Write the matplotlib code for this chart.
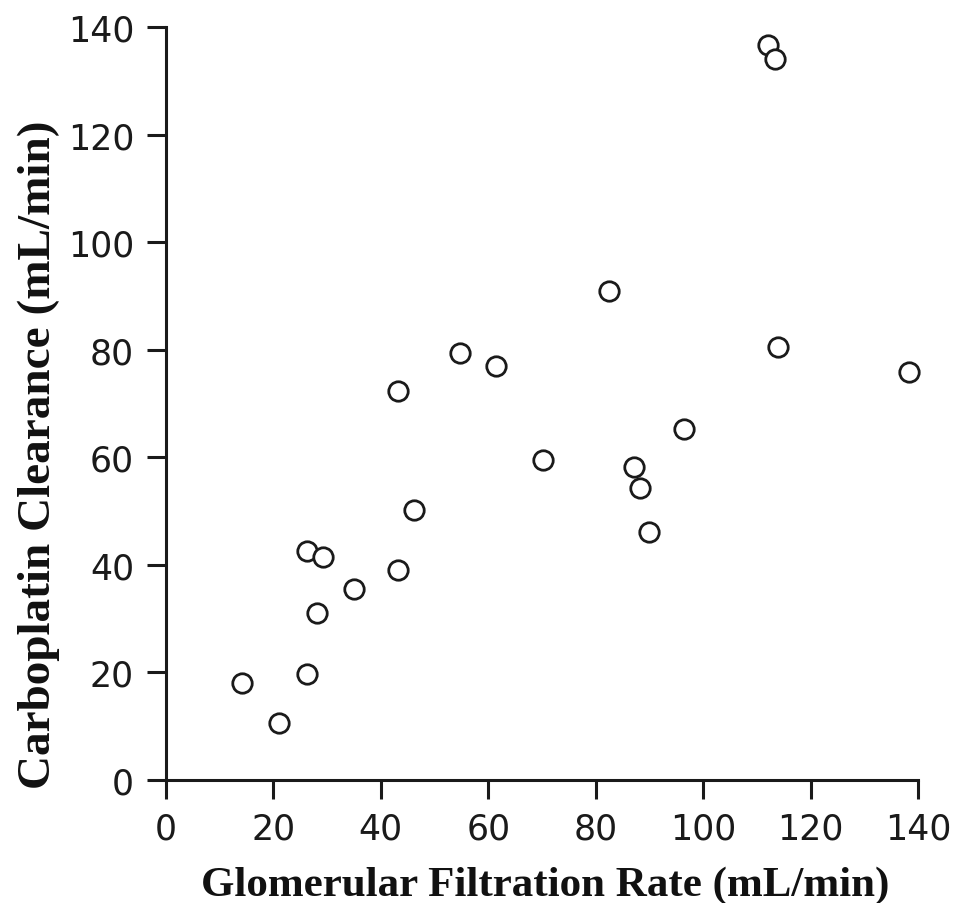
import matplotlib
matplotlib.use("Agg")
import matplotlib.pyplot as plt

# Glomerular filtration rate vs carboplatin clearance (mL/min)
gfr = [14.2, 21.1, 26.3, 26.3, 29.3, 28.1, 35.0, 43.2, 43.2, 46.2, 54.8,
       61.5, 70.1, 82.4, 87.1, 88.2, 90.0, 96.4, 112.0, 113.3, 113.9, 138.3]
clearance = [18.0, 10.6, 19.7, 42.6, 41.5, 31.0, 35.5, 72.3, 39.0, 50.2, 79.4,
             77.0, 59.5, 90.9, 58.2, 54.3, 46.1, 65.3, 136.6, 134.0, 80.5, 75.9]
ticks = [0, 20, 40, 60, 80, 100, 120, 140]

W, H = 958, 904
fig = plt.figure(figsize=(W / 100, H / 100), dpi=100)
ax = fig.add_axes([166 / W, 123 / H, 752 / W, 753 / H])

ax.plot(gfr, clearance, linestyle="none", marker="o", markersize=14,
        markerfacecolor="white", markeredgecolor="#1a1a1a", markeredgewidth=2.0,
        clip_on=False)

ax.set_xlim(0, 140)
ax.set_ylim(0, 140)
ax.set_xticks(ticks)
ax.set_yticks(ticks)

for s in ["top", "right"]:
    ax.spines[s].set_visible(False)
for s in ["left", "bottom"]:
    ax.spines[s].set_linewidth(2.2)
    ax.spines[s].set_color("#1a1a1a")

ax.tick_params(direction="out", length=14, width=2.2, color="#1a1a1a",
               labelsize=25, labelcolor="#1a1a1a", pad=9)
for lab in ax.get_xticklabels() + ax.get_yticklabels():
    lab.set_family("DejaVu Sans")

fig.text(545 / W, (H - 896) / H, "Glomerular Filtration Rate (mL/min)",
         family="Liberation Serif", fontweight="bold", fontsize=31,
         ha="center", va="baseline", color="#111111")
fig.text(50 / W, (H - 455) / H, "Carboplatin Clearance (mL/min)",
         family="Liberation Serif", fontweight="bold", fontsize=34,
         rotation=90, rotation_mode="anchor", ha="center", va="baseline",
         color="#111111")

fig.savefig("out.png", dpi=100)
